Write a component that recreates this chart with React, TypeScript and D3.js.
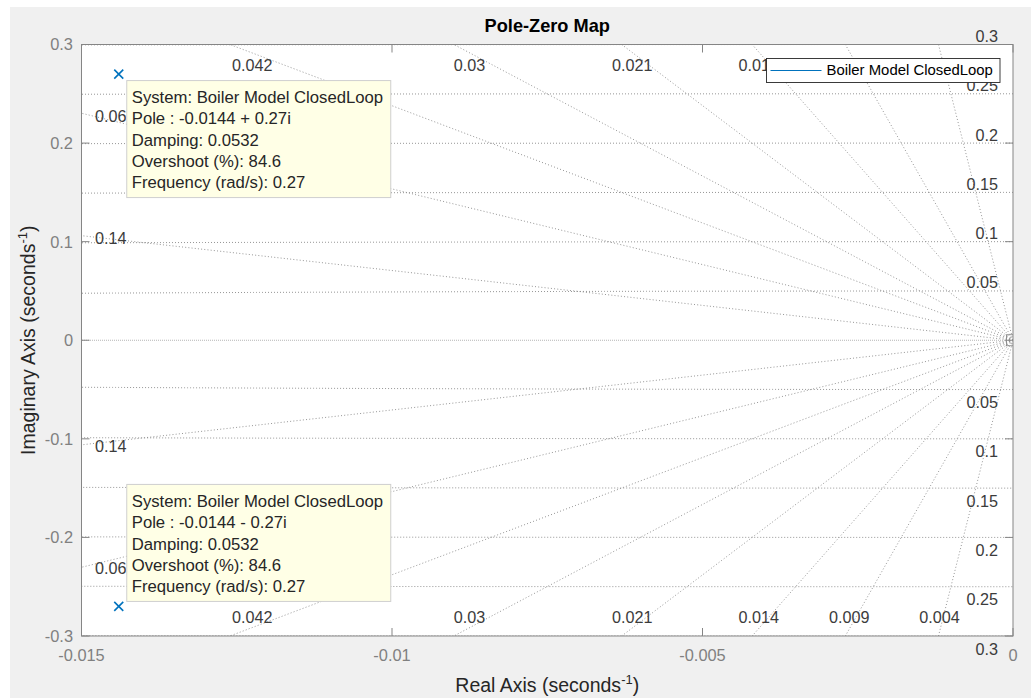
import React from 'react';
import * as d3 from 'd3';

// Axis ticks
const realTicks = [-0.015, -0.01, -0.005, 0];
const realTickLabels = ['-0.015', '-0.01', '-0.005', '0'];
const imagTicks = [-0.3, -0.2, -0.1, 0, 0.1, 0.2, 0.3];
const imagTickLabels = ['-0.3', '-0.2', '-0.1', '0', '0.1', '0.2', '0.3'];

// s-plane grid: constant damping rays and constant natural-frequency circles
const dampingValues = [0.14, 0.065, 0.042, 0.03, 0.021, 0.014, 0.009, 0.004];
const dampingLabels = ['0.14', '0.065', '0.042', '0.03', '0.021', '0.014', '0.009', '0.004'];
const naturalFreqs = [0.05, 0.1, 0.15, 0.2, 0.25, 0.3];
const naturalFreqLabels = ['0.05', '0.1', '0.15', '0.2', '0.25', '0.3'];

// Closed-loop poles
const poleReal = [-0.0144, -0.0144];
const poleImag = [0.27, -0.27];

// Data tip contents
const tipSystem = 'System: Boiler Model ClosedLoop';
const tipPole = ['Pole : -0.0144 + 0.27i', 'Pole : -0.0144 - 0.27i'];
const tipDamping = 'Damping: 0.0532';
const tipOvershoot = 'Overshoot (%): 84.6';
const tipFrequency = 'Frequency (rad/s): 0.27';

const seriesName = 'Boiler Model ClosedLoop';

const W = 1031;
const H = 698;
const FONT = '"Liberation Sans", Arial, Helvetica, sans-serif';
const BLUE = '#0072BD';

// legend box (upper right, inside the axes)
const LEG = { x: 766.5, y: 58.5, w: 233.5, h: 24 };

export default function App() {
  const x = d3.scaleLinear().domain([-0.015, 0]).range([81.5, 1013]);
  const y = d3.scaleLinear().domain([-0.3, 0.3]).range([636, 44.5]);
  const [x0, x1] = x.range();
  const [yb, yt] = y.range();

  const line = d3
    .line<[number, number]>()
    .x((d) => x(d[0]))
    .y((d) => y(d[1]));

  const gridStroke = '#8a8a8a';
  const tickFs = 16.4;
  const gridFs = 16.2;

  // constant damping rays (upper and lower half)
  const R = 0.5;
  const rays: string[] = [];
  dampingValues.forEach((z) => {
    const wd = Math.sqrt(1 - z * z);
    rays.push(line([[0, 0], [-R * z, R * wd]]) as string);
    rays.push(line([[0, 0], [-R * z, -R * wd]]) as string);
  });

  // natural frequency semicircles in the left half plane
  const circles = naturalFreqs.map((wn) => {
    const pts: [number, number][] = d3
      .range(0, 3001)
      .map((i) => Math.PI / 2 + (Math.PI * i) / 3000)
      .map((t) => [wn * Math.cos(t), wn * Math.sin(t)]);
    return line(pts) as string;
  });

  // damping labels placement (labels fully under the legend are not drawn)
  const dampLabelEls: React.ReactNode[] = [];
  dampingValues.forEach((z, i) => {
    const r = Math.sqrt(1 - z * z) / z;
    const leftImag = 0.015 * r;
    if (leftImag < 0.3) {
      const yu = y(leftImag) + 3;
      const yl = y(-leftImag) + 1;
      [yu, yl].forEach((cy, k) =>
        dampLabelEls.push(
          <text key={`dl${i}${k}`} x={x0 + 13.5} y={cy + 0.36 * gridFs} fontSize={gridFs} fill="#3c3c3c">
            {dampingLabels[i]}
          </text>
        )
      );
    } else {
      const cx = x(-0.291 / r) - 1.2;
      const cyTop = yt + 20.5;
      const cyBot = yb - 18.5;
      [cyTop, cyBot].forEach((cy, k) => {
        const hidden = k === 0 && cx - 20 > LEG.x && cx + 20 < LEG.x + LEG.w;
        if (hidden) return;
        dampLabelEls.push(
          <text key={`dl${i}${k}`} x={cx} y={cy + 0.36 * gridFs} fontSize={gridFs} fill="#3c3c3c" textAnchor="middle">
            {dampingLabels[i]}
          </text>
        );
      });
    }
  });

  const tipW = 264;
  const tipH = 117;
  const lineStep = 21.25;

  const tips = poleReal.map((re, i) => {
    const px = x(re);
    const py = y(poleImag[i]);
    const bx = px + 8;
    const by = poleImag[i] > 0 ? py + 6.5 : py - 5 - tipH;
    const lines = [tipSystem, tipPole[i], tipDamping, tipOvershoot, tipFrequency];
    return (
      <g key={`tip${i}`}>
        <rect x={bx} y={by} width={tipW} height={tipH} fill="#ffffe6" stroke="#cfcfcf" strokeWidth={1} />
        {lines.map((t, k) => (
          <text key={k} x={bx + 5} y={by + 22.6 + k * lineStep} fontSize={16.7} fill="#262626">
            {t}
          </text>
        ))}
      </g>
    );
  });

  const tickLen = 8;

  return (
    <svg
      width={W}
      height={H}
      style={{ position: 'absolute', left: 0, top: 0, display: 'block' }}
      fontFamily={FONT}
    >
      <defs>
        <clipPath id="plotClip">
          <rect x={x0} y={yt} width={x1 - x0} height={yb - yt} />
        </clipPath>
      </defs>
      <rect x={0} y={0} width={W} height={H} fill="#ffffff" />
      <rect x={10} y={7} width={W - 10} height={H - 7} fill="#f0f0f0" />
      <rect x={x0} y={yt} width={x1 - x0} height={yb - yt} fill="#ffffff" />

      {/* title */}
      <text x={(x0 + x1) / 2} y={31.5} fontSize={18.2} fontWeight="bold" textAnchor="middle" fill="#000">
        Pole-Zero Map
      </text>

      {/* grid */}
      <g clipPath="url(#plotClip)" fill="none">
        {circles.map((d, i) => (
          <path key={`c${i}`} d={d} stroke={gridStroke} strokeWidth={0.9} strokeDasharray="1 2" />
        ))}
        {rays.map((d, i) => (
          <path key={`r${i}`} d={d} stroke={gridStroke} strokeWidth={0.9} strokeDasharray="1 2.2" />
        ))}
        <path d={line([[0, 0], [-0.02, 0]]) as string} stroke="#b5b5b5" strokeWidth={1} strokeDasharray="1 1" />
        <rect x={x1 - 6.5} y={y(0) - 5.5} width={9} height={11} fill="none" stroke="#8a8a8a" strokeWidth={0.9} />
      </g>

      {/* natural frequency labels */}
      {naturalFreqs.map((wn, i) => (
        <g key={`wl${i}`}>
          <text x={998} y={y(wn) - 2.5} fontSize={gridFs} textAnchor="end" fill="#3c3c3c">
            {naturalFreqLabels[i]}
          </text>
          <text x={998} y={y(-wn) + 18.5} fontSize={gridFs} textAnchor="end" fill="#3c3c3c">
            {naturalFreqLabels[i]}
          </text>
        </g>
      ))}

      {/* damping labels */}
      {dampLabelEls}

      {/* axes box and ticks */}
      <rect x={x0} y={yt} width={x1 - x0} height={yb - yt} fill="none" stroke="#858585" strokeWidth={1} />
      {realTicks.map((v, i) => (
        <g key={`xt${i}`}>
          <line x1={x(v)} x2={x(v)} y1={yb} y2={yb - tickLen} stroke="#858585" />
          <line x1={x(v)} x2={x(v)} y1={yt} y2={yt + tickLen} stroke="#858585" />
          <text x={x(v)} y={661} fontSize={tickFs} textAnchor="middle" fill="#808080">
            {realTickLabels[i]}
          </text>
        </g>
      ))}
      {imagTicks.map((v, i) => (
        <g key={`yt${i}`}>
          <line x1={x0} x2={x0 + tickLen} y1={y(v)} y2={y(v)} stroke="#858585" />
          <line x1={x1} x2={x1 - tickLen} y1={y(v)} y2={y(v)} stroke="#858585" />
          <text x={73} y={y(v) + 0.36 * tickFs} fontSize={tickFs} textAnchor="end" fill="#808080">
            {imagTickLabels[i]}
          </text>
        </g>
      ))}

      {/* axis labels */}
      <text x={(x0 + x1) / 2} y={692} fontSize={19.5} textAnchor="middle" fill="#262626">
        Real Axis (seconds
        <tspan fontSize={13} dy={-8}>-1</tspan>
        <tspan dy={8}>)</tspan>
      </text>
      <text
        transform={`translate(35, ${(yt + yb) / 2}) rotate(-90)`}
        fontSize={19.5}
        textAnchor="middle"
        fill="#262626"
      >
        Imaginary Axis (seconds
        <tspan fontSize={13} dy={-8}>-1</tspan>
        <tspan dy={8}>)</tspan>
      </text>

      {/* poles */}
      {poleReal.map((re, i) => {
        const px = x(re);
        const py = y(poleImag[i]);
        return (
          <g key={`p${i}`} stroke={BLUE} strokeWidth={1.6}>
            <line x1={px - 4.5} y1={py - 4.5} x2={px + 4.5} y2={py + 4.5} />
            <line x1={px - 4.5} y1={py + 4.5} x2={px + 4.5} y2={py - 4.5} />
          </g>
        );
      })}

      {/* legend */}
      <g>
        <rect x={LEG.x} y={LEG.y} width={LEG.w} height={LEG.h} fill="#ffffff" stroke="#262626" strokeWidth={0.9} />
        <line x1={770.5} x2={821.5} y1={70.5} y2={70.5} stroke={BLUE} strokeWidth={1} />
        <text x={826.5} y={75.4} fontSize={14.9} fill="#000">
          {seriesName}
        </text>
      </g>

      {/* data tips */}
      {tips}
    </svg>
  );
}
